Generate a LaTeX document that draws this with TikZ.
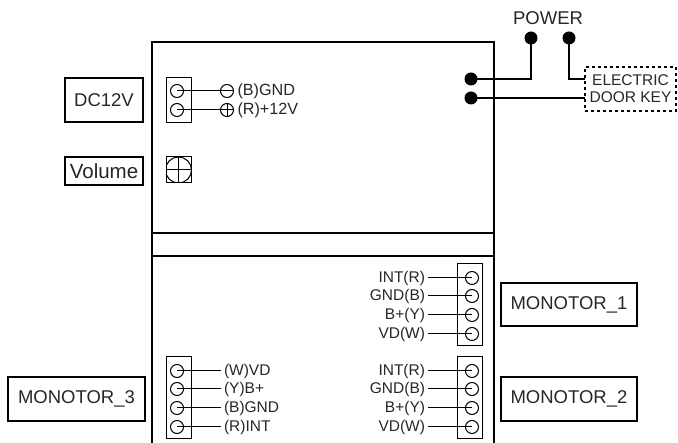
\documentclass[tikz,border=0pt]{standalone}
\usepackage{fontspec}
\setmainfont{Liberation Sans}
\usepackage{tikz}
\usetikzlibrary{arrows.meta,positioning}

\begin{document}
\begin{tikzpicture}[
		x=1pt, y=-1pt,
		every node/.style = {inner sep=0pt, outer sep=0pt, text=black!85},
		tag/.style = {draw, line width=1.7pt, align=center, font=\fontsize{18.5}{21}\selectfont},
		panel/.style = {draw, line width=1.7pt, minimum width=342pt, minimum height=191pt},
		block/.style = {draw, line width=1pt, minimum width=25pt},
		pin/.style = {draw, circle, line width=1pt, minimum size=13pt},
		dot/.style = {circle, fill=black, minimum size=13pt},
		sign/.style = {draw, circle, line width=1pt, minimum size=13pt},
		plus/.style = {sign, path picture={\draw[line width=1pt] (path picture bounding box.north) -- (path picture bounding box.south);}},
		lab/.style = {font=\fontsize{15.5}{18}\selectfont},
		wire/.style = {line width=1pt},
		feed/.style = {line width=1.5pt}
		]
		\useasboundingbox (0,0) rectangle (678,443);
		
		% Housing -------------------------------------------------------
		\node[panel] (upper) at (323,137.5) {};
		\coordinate (railL) at (152,256);
		\coordinate (railR) at (494,256);
		\coordinate (endL) at (152,443);
		\coordinate (endR) at (494,443);
		\draw[line width=1.7pt] (upper.south west) -- (endL);
		\draw[line width=1.7pt] (upper.south east) -- (endR);
		\draw[line width=1.7pt] (railL) -- (railR);
		
		% Tags ----------------------------------------------------------
		\node[tag, minimum width=78pt, minimum height=44pt] (dc) at (104,100) {DC12V};
		\node[tag, minimum width=78pt, minimum height=28pt, font=\fontsize{20.5}{23}\selectfont] (volume) at (104,171) {Volume};
		\node[tag, minimum width=137pt, minimum height=44pt] (mon3) at (76.5,399) {MONOTOR\_3};
		\node[tag, minimum width=136pt, minimum height=43pt] (mon1) at (569,304.5) {MONOTOR\_1};
		\node[tag, minimum width=136pt, minimum height=44pt] (mon2) at (569,399) {MONOTOR\_2};
		
		% Power ---------------------------------------------------------
		\node[font=\fontsize{18.5}{21}\selectfont] (power) at (548,18) {POWER};
		\node[dot] (pwrA) at (531,38) {};
		\node[dot] (pwrB) at (569,38) {};
		\node[dot] (inA) at (471,79) {};
		\node[dot] (inB) at (471,98) {};
		\node[draw, dashed, line width=1.3pt, minimum width=91pt, minimum height=44pt, align=center,
			font=\fontsize{15.5}{17}\selectfont] (key) at (630.5,89) {ELECTRIC\\DOOR KEY};
		\coordinate (keyA) at (585,79);
		\coordinate (keyB) at (585,98);
		\draw[feed] (pwrA.center) |- (inA.center);
		\draw[feed] (pwrB.center) |- (keyA);
		\draw[feed] (inB.center) -- (keyB);
		
		% DC connector --------------------------------------------------
		\node[block, minimum height=45pt] (dcblock) at (178.5,100.5) {};
		\node[pin] (dcA) at (177,91) {};
		\node[pin] (dcB) at (177,110) {};
		\node[sign] (minus) at (227,91) {};
		\node[plus] (plus) at (227,110) {};
		\node[lab, right=4pt of minus, font=\fontsize{16.2}{18}\selectfont] (gndlab) {(B)GND};
		\node[lab, right=4pt of plus, font=\fontsize{16.2}{18}\selectfont] (vcclab) {(R)+12V};
		\draw[wire] (dcA.center) -- (minus.east);
		\draw[wire] (dcB.center) -- (plus.east);
		
		% Volume --------------------------------------------------------
		\node[block, minimum height=26pt, path picture={
			\draw[line width=1pt] (path picture bounding box.center) circle (13pt);
			\draw[line width=1pt] (path picture bounding box.north) -- (path picture bounding box.south);
			\draw[line width=1pt] (path picture bounding box.west) -- (path picture bounding box.east);
			}] (knob) at (178.5,170) {};
		
		% Monitor 3 -----------------------------------------------------
		\node[block, minimum height=82pt] (block3) at (178.5,398) {};
		\node[pin] (p3a) at (177,371) {};
		\node[pin] (p3b) at (177,389) {};
		\node[pin] (p3c) at (177,408) {};
		\node[pin] (p3d) at (177,427) {};
		\node[lab, anchor=west] (l3a) at (224,371) {(W)VD};
		\node[lab, anchor=west] (l3b) at (224,389) {(Y)B+};
		\node[lab, anchor=west] (l3c) at (224,408) {(B)GND};
		\node[lab, anchor=west] (l3d) at (224,427) {(R)INT};
		\draw[wire] (p3a.center) -- ([xshift=-3pt]l3a.west);
		\draw[wire] (p3b.center) -- ([xshift=-3pt]l3b.west);
		\draw[wire] (p3c.center) -- ([xshift=-3pt]l3c.west);
		\draw[wire] (p3d.center) -- ([xshift=-3pt]l3d.west);
		
		% Monitor 1 -----------------------------------------------------
		\node[block, minimum height=82pt] (block1) at (470,305) {};
		\node[pin] (p1a) at (472,278) {};
		\node[pin] (p1b) at (472,296) {};
		\node[pin] (p1c) at (472,315) {};
		\node[pin] (p1d) at (472,334) {};
		\node[lab, anchor=east] (l1a) at (425,278) {INT(R)};
		\node[lab, anchor=east] (l1b) at (425,296) {GND(B)};
		\node[lab, anchor=east] (l1c) at (425,315) {B+(Y)};
		\node[lab, anchor=east] (l1d) at (425,334) {VD(W)};
		\draw[wire] ([xshift=3pt]l1a.east) -- (p1a.center);
		\draw[wire] ([xshift=3pt]l1b.east) -- (p1b.center);
		\draw[wire] ([xshift=3pt]l1c.east) -- (p1c.center);
		\draw[wire] ([xshift=3pt]l1d.east) -- (p1d.center);
		
		% Monitor 2 -----------------------------------------------------
		\node[block, minimum height=82pt] (block2) at (470,398) {};
		\node[pin] (p2a) at (472,371) {};
		\node[pin] (p2b) at (472,389) {};
		\node[pin] (p2c) at (472,408) {};
		\node[pin] (p2d) at (472,427) {};
		\node[lab, anchor=east] (l2a) at (425,371) {INT(R)};
		\node[lab, anchor=east] (l2b) at (425,389) {GND(B)};
		\node[lab, anchor=east] (l2c) at (425,408) {B+(Y)};
		\node[lab, anchor=east] (l2d) at (425,427) {VD(W)};
		\draw[wire] ([xshift=3pt]l2a.east) -- (p2a.center);
		\draw[wire] ([xshift=3pt]l2b.east) -- (p2b.center);
		\draw[wire] ([xshift=3pt]l2c.east) -- (p2c.center);
		\draw[wire] ([xshift=3pt]l2d.east) -- (p2d.center);
	\end{tikzpicture}
\end{document}
